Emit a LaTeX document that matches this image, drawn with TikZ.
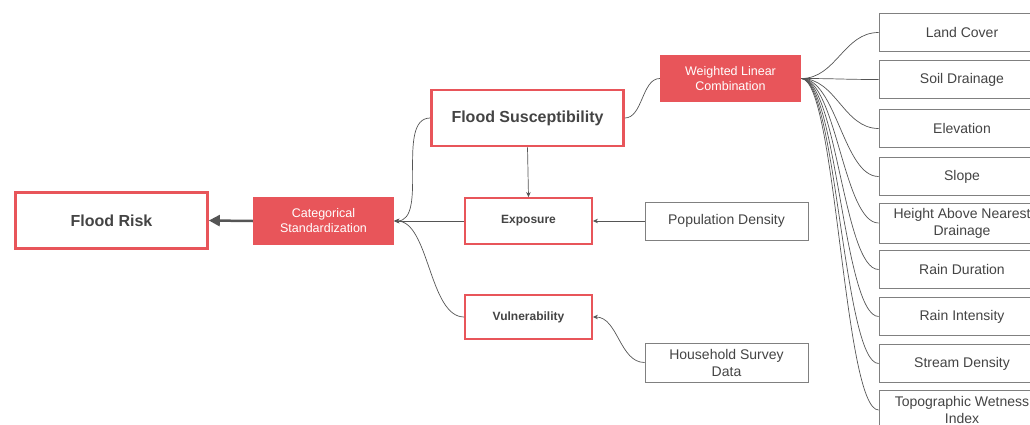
\documentclass[tikz,border=0pt]{standalone}
\usepackage{fontspec}
\setmainfont{Liberation Sans}
\usetikzlibrary{arrows.meta,positioning}
\definecolor{floodred}{HTML}{E8555A}
\definecolor{textgray}{HTML}{444444}
\definecolor{linegray}{HTML}{555555}
\definecolor{boxgray}{HTML}{808080}

\begin{document}
\begin{tikzpicture}[x=1pt, y=-1pt,
    mainbox/.style={draw=floodred, line width=2.6pt, fill=white, minimum width=192pt, minimum height=56pt, text=textgray, font=\fontsize{16}{19}\selectfont\bfseries},
    subbox/.style={draw=floodred, line width=1.8pt, fill=white, minimum width=127pt, minimum height=46pt, text=textgray, font=\fontsize{12}{14}\selectfont\bfseries},
    redbox/.style={fill=floodred, minimum width=141pt, minimum height=47pt, align=center, text=white, font=\fontsize{12.5}{15}\selectfont},
    databox/.style={draw=boxgray, line width=0.8pt, fill=white, minimum height=38pt, align=center, inner sep=1pt, text=textgray, font=\fontsize{14}{17}\selectfont},
    factor/.style={databox, minimum width=166pt},
    link/.style={draw=linegray, line width=0.7pt},
    arrow/.style={link, -{Stealth[length=5pt, width=4.5pt]}}
]
\useasboundingbox (0,0) rectangle (1030,425);
\clip (0,0) rectangle (1030,425);

% Flood risk and the standardization step
\node[mainbox] (risk) at (111.5,220.5) {Flood Risk};
\node[redbox, minimum height=48pt] (catstd) at (323.5,221) {Categorical\\Standardization};

% Components
\node[mainbox] (suscept) at (527.5,118) {Flood Susceptibility};
\node[subbox] (exposure) at (528.5,221) {Exposure};
\node[subbox, minimum height=44pt] (vuln) at (528.5,317) {Vulnerability};

% Inputs of exposure and vulnerability
\node[databox, minimum width=163pt] (popdens) at (726.5,221) {Population Density};
\node[databox, minimum width=163pt, minimum height=39pt] (survey) at (726.5,362.5) {Household Survey\\Data};

% Weighted linear combination
\node[redbox] (wlc) at (730.5,78.5) {Weighted Linear\\Combination};

% Susceptibility factors
\node[factor] (landcover) at (962,32.5) {Land Cover};
\node[factor] (soil) at (962,79.5) {Soil Drainage};
\node[factor] (elev) at (962,128.5) {Elevation};
\node[factor] (slope) at (962,176.5) {Slope};
\node[factor, minimum height=40pt] (hand) at (962,223) {Height Above Nearest\\Drainage};
\node[factor] (raindur) at (962,269.5) {Rain Duration};
\node[factor] (rainint) at (962,316.5) {Rain Intensity};
\node[factor] (stream) at (962,363.5) {Stream Density};
\node[factor, minimum height=40pt] (twi) at (962,410) {Topographic Wetness\\Index};

% Arrows
\draw[link, line width=2.5pt, -{Triangle[length=11pt, width=11pt]}] (catstd.west) -- (risk.east);
\draw[arrow] (suscept.west) to[out=180, in=0, distance=35pt] (catstd.east);
\draw[arrow] (exposure.west) -- (catstd.east);
\draw[arrow] (vuln.west) to[out=180, in=0, distance=35pt] (catstd.east);
\draw[arrow] (suscept.south) -- (exposure.north);
\draw[arrow] (popdens.west) -- (exposure.east);
\draw[arrow] (survey.west) to[out=180, in=0, distance=25pt] (vuln.east);
\draw[link] (suscept.east) to[out=0, in=180, distance=18pt] (wlc.west);

% Factor links
\draw[link] (wlc.east) to[out=0, in=180, distance=35pt] (landcover.west);
\draw[link] (wlc.east) to[out=0, in=180, distance=35pt] (soil.west);
\draw[link] (wlc.east) to[out=0, in=180, distance=35pt] (elev.west);
\draw[link] (wlc.east) to[out=0, in=180, distance=35pt] (slope.west);
\draw[link] (wlc.east) to[out=0, in=180, distance=35pt] (hand.west);
\draw[link] (wlc.east) to[out=0, in=180, distance=35pt] (raindur.west);
\draw[link] (wlc.east) to[out=0, in=180, distance=35pt] (rainint.west);
\draw[link] (wlc.east) to[out=0, in=180, distance=35pt] (stream.west);
\draw[link] (wlc.east) to[out=0, in=180, distance=35pt] (twi.west);

\end{tikzpicture}
\end{document}
